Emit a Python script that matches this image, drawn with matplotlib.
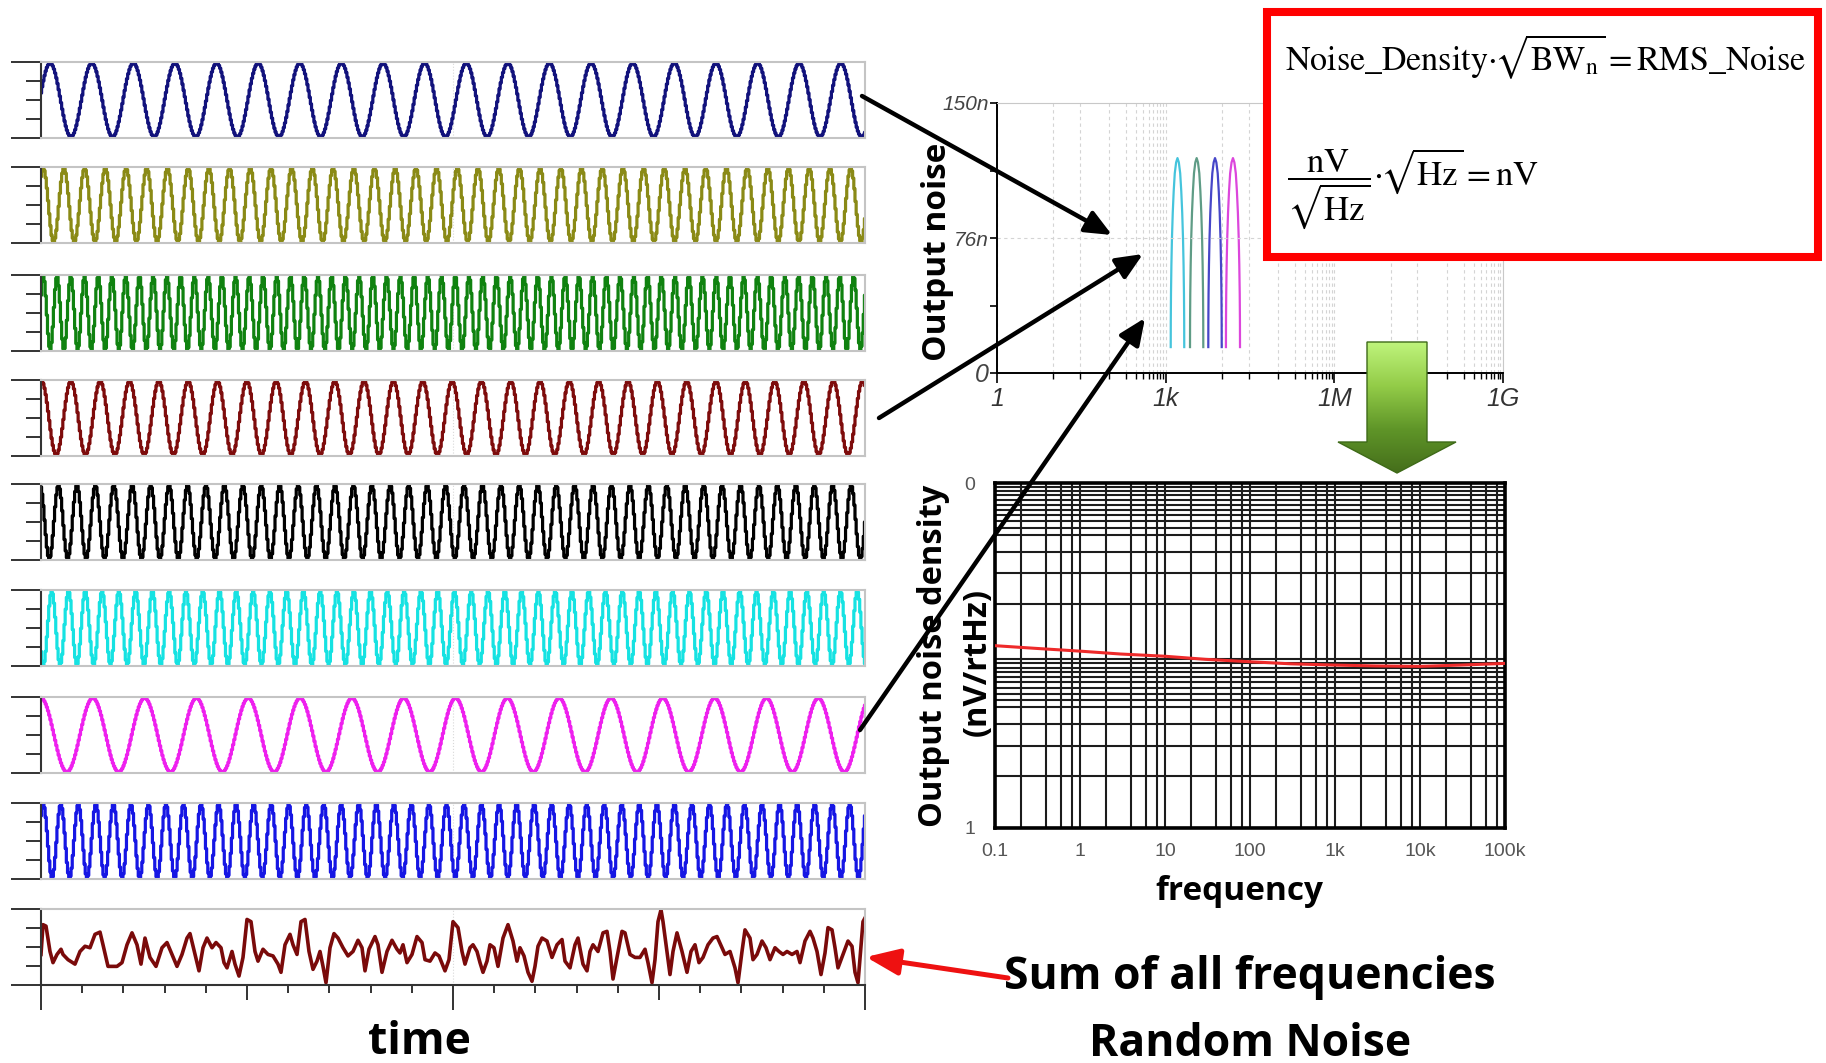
import numpy as np
import matplotlib
matplotlib.use('Agg')
import matplotlib.pyplot as plt
from matplotlib.patches import Rectangle, Polygon, FancyArrowPatch, ArrowStyle
from matplotlib.colors import LinearSegmentedColormap
from matplotlib.ticker import FixedLocator, NullFormatter

plt.rcParams['mathtext.fontset'] = 'stix'
plt.rcParams['font.family'] = ['DejaVu Sans']

W, H, DPI = 1826, 1063, 100
BOLD_FONT = ['Open Sans', 'DejaVu Sans']

# ----------------------------------------------
# Data
# ----------------------------------------------

# eight single-frequency traces (cycles across the time window, first peak in cycles)
wave_colors = ['#12127c', '#8a8a16', '#108210', '#7e0c0c', '#000000', '#16e2e2', '#ee20ee', '#1616e4']
wave_cycles = [19.8, 39.8, 60.0, 28.1, 44.7, 49.1, 15.9, 47.0]
wave_first_peak = [0.22, 0.11, 0.17, 0.02, 0.95, 0.64, 0.0, 0.13]
T_END = 824  # time window (arbitrary units)

# sum of all frequencies (time, level 0..100)
noise_t = [0, 2, 5, 9, 12, 16, 20, 22, 27, 34, 39, 44,
           49, 54, 59, 62, 67, 76, 81, 86, 91, 96, 100, 104,
           109, 115, 121, 126, 131, 136, 141, 146, 149, 154, 158, 162,
           166, 171, 175, 180, 183, 186, 191, 194, 198, 202, 206, 210,
           214, 217, 222, 227, 232, 237, 240, 244, 249, 252, 256, 260,
           264, 268, 272, 276, 279, 282, 285, 289, 293, 297, 302, 307,
           312, 317, 321, 324, 328, 334, 337, 341, 346, 351, 356, 359,
           362, 366, 371, 376, 381, 384, 389, 394, 398, 404, 408, 412,
           417, 421, 424, 429, 432, 436, 439, 442, 446, 449, 453, 457,
           462, 467, 472, 476, 479, 483, 487, 491, 494, 497, 501, 506,
           511, 516, 521, 524, 529, 534, 537, 542, 546, 549, 552, 557,
           562, 566, 569, 572, 576, 581, 584, 589, 594, 599, 604, 607,
           611, 614, 617, 620, 622, 626, 629, 632, 636, 641, 646, 650,
           654, 658, 662, 667, 672, 676, 681, 684, 689, 694, 697, 701,
           704, 709, 712, 716, 721, 725, 729, 734, 738, 742, 746, 751,
           756, 759, 764, 769, 772, 776, 780, 784, 787, 791, 794, 797,
           802, 807, 811, 814, 817, 822, 824]
noise_v = [40, 80, 78, 44, 29, 40, 47, 40, 33, 27, 44, 51,
           49, 67, 70, 53, 24, 24, 29, 53, 69, 53, 27, 62,
           36, 24, 49, 56, 40, 24, 40, 62, 68, 40, 18, 49,
           62, 49, 56, 49, 29, 22, 44, 27, 11, 36, 87, 84,
           44, 31, 47, 40, 38, 27, 16, 53, 67, 53, 40, 84,
           87, 44, 20, 31, 44, 24, 2, 49, 68, 62, 49, 38,
           44, 59, 49, 18, 47, 64, 53, 16, 44, 59, 47, 42,
           53, 29, 40, 64, 56, 33, 31, 42, 38, 18, 33, 84,
           76, 44, 27, 49, 53, 44, 29, 16, 31, 53, 49, 24,
           62, 80, 58, 31, 49, 38, 16, 4, 24, 51, 62, 58,
           36, 53, 60, 31, 22, 53, 62, 27, 18, 44, 53, 44,
           69, 71, 44, 7, 36, 71, 69, 40, 36, 36, 47, 29,
           2, 33, 84, 100, 84, 44, 13, 44, 69, 44, 16, 44,
           53, 29, 36, 53, 62, 64, 49, 40, 44, 22, 2, 44,
           73, 62, 33, 40, 58, 49, 33, 49, 44, 40, 44, 40,
           44, 29, 58, 71, 62, 44, 13, 42, 76, 73, 49, 22,
           40, 58, 51, 16, 2, 84, 89]

# output-noise humps (Hz, nV)
hump_colors = ['#45c4dc', '#5f9c86', '#4646c8', '#dc46dc']
hump_start = [1230, 2710, 5730, 11800]
hump_end = [2140, 4670, 9930, 21000]
hump_u = [0, 0.005, 0.02, 0.05, 0.09, 0.15, 0.22, 0.3, 0.4, 0.5,
          0.6, 0.7, 0.78, 0.85, 0.91, 0.95, 0.98, 0.995, 1]
hump_level = [14.4, 29, 44, 60, 74.5, 89, 101, 111, 117, 119.4,
              117, 111, 101, 89, 74.5, 60, 44, 29, 14.4]

# output noise density curve
dens_f = [0.1, 0.3, 1, 3, 10, 30, 100, 300, 1000, 3000, 10000, 30000, 100000]
dens_v = [11.4, 11.0, 10.6, 10.2, 9.9, 9.5, 9.2, 8.95, 8.8, 8.7, 8.65, 8.8, 9.0]

dens_xticks = [0.1, 1, 10, 100, 1e3, 1e4, 1e5]
dens_xlabels = ['0.1', '1', '10', '100', '1k', '10k', '100k']
top_xticks = [1, 1e3, 1e6, 1e9]
top_xlabels = ['1', '1k', '1M', '1G']


# ----------------------------------------------
# Layout helpers
# ----------------------------------------------

fig = plt.figure(figsize=(W / DPI, H / DPI), dpi=DPI)


def px_axes(x0, y0, x1, y1):
    return fig.add_axes([x0 / W, 1 - y1 / H, (x1 - x0) / W, (y1 - y0) / H])


def style_wave_axes(ax, ylo, yhi):
    for s in ('top', 'right', 'bottom'):
        ax.spines[s].set_color('#c4c4c4')
        ax.spines[s].set_linewidth(1.5)
    ax.spines['left'].set_color('#333333')
    ax.spines['left'].set_linewidth(1.5)
    ax.set_xlim(0, T_END)
    ax.set_ylim(ylo, yhi)
    ax.set_yticks(np.linspace(ylo, yhi, 5))
    ax.yaxis.set_major_formatter(NullFormatter())
    ax.tick_params(axis='y', length=10.8, width=1.4, color='#333333')
    yt = ax.yaxis.get_major_ticks()
    yt[0].tick1line.set_markersize(21.6)
    yt[-1].tick1line.set_markersize(21.6)
    ax.axvline(T_END / 2, color='#d8d8d8', lw=0.8, ls=':', zorder=0)


# ----------------------------------------------
# Left: individual frequencies + sum
# ----------------------------------------------

panel_tops = [62, 167, 275, 380, 484, 590, 697, 803]
t = np.linspace(0, T_END, 700)
for top, color, cyc, ph in zip(panel_tops, wave_colors, wave_cycles, wave_first_peak):
    ax = px_axes(41, top, 865, top + 76)
    y = np.cos(2 * np.pi * (cyc * t / T_END - ph))
    ax.plot(t, y, color=color, lw=2.3, drawstyle='steps-mid')
    style_wave_axes(ax, -1.03, 1.03)
    ax.set_xticks([])

ax_n = px_axes(41, 909, 865, 985)
ax_n.plot(noise_t, noise_v, color='#7a0a0a', lw=2.6)
style_wave_axes(ax_n, -1, 101)
ax_n.spines['bottom'].set_color('#333333')
ax_n.set_xticks(np.linspace(0, T_END, 21))
ax_n.xaxis.set_major_formatter(NullFormatter())
ax_n.tick_params(axis='x', width=1.4, color='#333333')
for i, tk in enumerate(ax_n.xaxis.get_major_ticks()):
    tk.tick1line.set_markersize(18 if i % 10 == 0 else (11 if i % 5 == 0 else 5.8))

# ----------------------------------------------
# Top middle: output noise vs frequency
# ----------------------------------------------

ax_t = px_axes(997, 103, 1503, 373)
ax_t.set_xscale('log')
for color, f0, f1 in zip(hump_colors, hump_start, hump_end):
    lf = np.log10(f0) + np.array(hump_u) * (np.log10(f1) - np.log10(f0))
    ax_t.plot(10 ** lf, hump_level, color=color, lw=1.6)
ax_t.set_xlim(1, 1e9)
ax_t.set_ylim(0, 150)
ax_t.set_xticks(top_xticks)
ax_t.set_xticklabels(top_xlabels, fontsize=18, fontstyle='italic', color='#333333',
                     family=['Liberation Sans', 'DejaVu Sans'])
minor_pos = [k * 1000 ** n for n in range(3) for k in [10, 30, 100, 200, 300, 400, 500, 600, 700, 800, 900]]
ax_t.xaxis.set_minor_locator(FixedLocator(minor_pos))
ax_t.xaxis.set_minor_formatter(NullFormatter())
ax_t.tick_params(axis='x', which='major', length=7, width=1.2, pad=3)
ax_t.tick_params(axis='x', which='minor', length=4.5, width=1.0)
ax_t.grid(axis='x', which='both', color='#d4d4d4', lw=0.8, ls=(0, (3, 3)))
ax_t.axhline(75, color='#d4d4d4', lw=0.8, ls=(0, (3, 3)))
ax_t.set_yticks([0, 37.5, 75, 112.5, 150])
ax_t.set_yticklabels(['0', '', '76n', '', '150n'], fontsize=15, fontstyle='italic', color='#444444',
                     family=['Liberation Sans', 'DejaVu Sans'])
ax_t.get_yticklabels()[0].set_fontsize(18)
ax_t.tick_params(axis='y', length=5, width=1.2, pad=1)
for s in ('top', 'right'):
    ax_t.spines[s].set_color('#c8c8c8')
for s in ('bottom', 'left'):
    ax_t.spines[s].set_linewidth(1.4)

# ----------------------------------------------
# Lower middle: output noise density
# ----------------------------------------------

ax_d = px_axes(995, 483, 1505, 828)
ax_d.set_xscale('log')
ax_d.set_yscale('log')
ax_d.plot(dens_f, dens_v, color='#ee2a2a', lw=2.2, zorder=5)
ax_d.set_xlim(0.1, 1e5)
ax_d.set_ylim(1, 100)
ax_d.set_xticks(dens_xticks)
ax_d.set_xticklabels(dens_xlabels, fontsize=14, color='#555555', family=['Liberation Sans', 'DejaVu Sans'])
ax_d.xaxis.set_minor_locator(FixedLocator([k * 10.0 ** n for n in range(-1, 5) for k in [2, 4, 6, 8]]))
ax_d.yaxis.set_minor_locator(FixedLocator([k * 10.0 ** n for n in range(2)
                                           for k in [2, 3, 4, 5, 5.5, 6, 6.5, 7, 7.5, 8, 8.5, 9, 9.5]]))
ax_d.xaxis.set_minor_formatter(NullFormatter())
ax_d.yaxis.set_minor_formatter(NullFormatter())
ax_d.set_yticks([1, 100])
ax_d.set_yticklabels(['1', '0'], fontsize=14, color='#555555', family=['Liberation Sans', 'DejaVu Sans'])
ax_d.tick_params(which='both', length=0)
ax_d.tick_params(axis='x', pad=11)
ax_d.tick_params(axis='y', pad=14)
ax_d.grid(which='both', color='#1c1c1c', lw=1.5)
for s in ax_d.spines.values():
    s.set_linewidth(2.6)

# ----------------------------------------------
# Overlay: box, arrows, labels (pixel coordinates)
# ----------------------------------------------

ov = fig.add_axes([0, 0, 1, 1])
ov.set_zorder(10)
ov.patch.set_alpha(0)
ov.set_xlim(0, W)
ov.set_ylim(H, 0)
ov.axis('off')

ov.add_patch(Rectangle((1267, 12), 551, 245, facecolor='white', edgecolor='#ff0000', lw=5.8))
ov.text(1285, 57, r'$\mathrm{Noise\_Density}\!\cdot\!\!\sqrt{\mathrm{BW}_\mathrm{n}} = \mathrm{RMS\_Noise}$',
        fontsize=24.5, va='center', ha='left')
ov.text(1287, 189, r'$\dfrac{\mathrm{nV}}{\sqrt{\mathrm{Hz}}}\!\cdot\!\!\sqrt{\mathrm{Hz}} = \mathrm{nV}$',
        fontsize=25, va='center', ha='left')

# green block arrow with vertical gradient
pts = [(1367, 342), (1427, 342), (1427, 442), (1456, 442), (1397, 473), (1338, 442), (1367, 442)]
poly = Polygon(pts, closed=True, facecolor='none', edgecolor='#3e6a18', lw=1.0, zorder=3)
ov.add_patch(poly)
green = LinearSegmentedColormap.from_list('grn', ['#bff47c', '#93cc48', '#5f9528', '#456e1b'])
im = ov.imshow(np.linspace(0, 1, 256).reshape(-1, 1), cmap=green, extent=(1338, 1456, 473, 342),
               origin='upper', aspect='auto', zorder=2)
im.set_clip_path(poly)
ov.set_xlim(0, W)
ov.set_ylim(H, 0)

black_arrows = [((862, 96), (1112, 235)), ((879, 418), (1143, 254)), ((860, 730), (1145, 318))]
for a, b in black_arrows:
    ov.add_patch(FancyArrowPatch(a, b, arrowstyle=ArrowStyle('-|>', head_length=16, head_width=7),
                                 mutation_scale=1, lw=3.2, color='black', shrinkA=0, shrinkB=0, zorder=4))
ov.add_patch(FancyArrowPatch((1008, 978), (866, 957), arrowstyle=ArrowStyle('-|>', head_length=20, head_width=8),
                             mutation_scale=1, lw=3.6, color='#ee1111', shrinkA=0, shrinkB=0, zorder=4))

ov.text(938, 252, 'Output noise', rotation=90, fontsize=24, fontweight='bold', family=BOLD_FONT,
        ha='center', va='center')
ov.text(934, 656, 'Output noise density', rotation=90, fontsize=23.5, fontweight='bold', family=BOLD_FONT,
        ha='center', va='center')
ov.text(977, 662, '(nV/rtHz)', rotation=90, fontsize=23.5, fontweight='bold', family=BOLD_FONT,
        ha='center', va='center')
ov.text(1239, 891, 'frequency', fontsize=24, fontweight='bold', family=BOLD_FONT, ha='center', va='center')
ov.text(419, 1042, 'time', fontsize=32, fontweight='bold', family=BOLD_FONT, ha='center', va='center')
ov.text(1250, 977, 'Sum of all frequencies', fontsize=32, fontweight='bold', family=BOLD_FONT,
        ha='center', va='center')
ov.text(1250, 1044, 'Random Noise', fontsize=32, fontweight='bold', family=BOLD_FONT,
        ha='center', va='center')

fig.savefig('out.png', dpi=DPI)
plt.close(fig)
